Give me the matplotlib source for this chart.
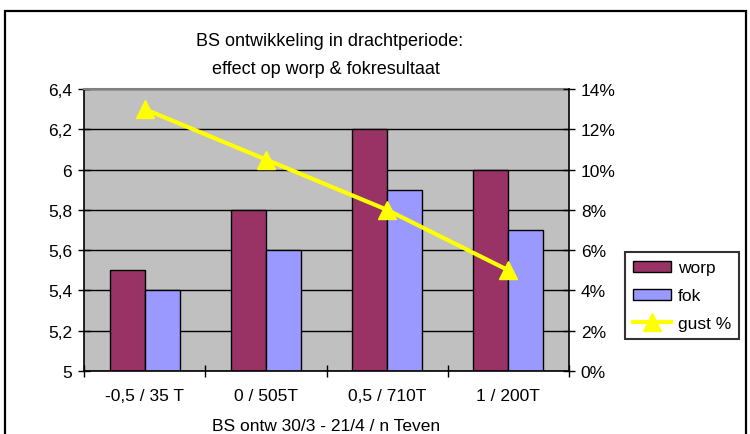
import matplotlib
matplotlib.use("Agg")
import matplotlib.pyplot as plt
from matplotlib.patches import Rectangle
from matplotlib.ticker import FuncFormatter, FixedLocator
import numpy as np

plt.rcParams['font.family'] = ['Liberation Sans', 'DejaVu Sans']

categories = ["-0,5 / 35 T", "0 / 505T", "0,5 / 710T", "1 / 200T"]
worp = [5.5, 5.8, 6.2, 6.0]
fok = [5.4, 5.6, 5.9, 5.7]
gust_pct = [13.0, 10.5, 8.0, 5.0]

W, H = 750, 435
fig = plt.figure(figsize=(7.5, 4.35), dpi=100)
fig.patch.set_facecolor('white')

# outer chart border
fig.patches.append(Rectangle((5 / W, -0.05), 741 / W, (H - 12) / H + 0.05,
                             transform=fig.transFigure, fill=False,
                             edgecolor='black', linewidth=1.6))

ax = fig.add_axes([84 / W, (H - 372) / H, 485 / W, 282 / H])
ax.set_facecolor('#C0C0C0')
x = np.arange(len(categories))
bw = 0.289
ax.bar(x - bw / 2, worp, width=bw, color='#993366', edgecolor='black', linewidth=1, label='worp', zorder=2)
ax.bar(x + bw / 2, fok, width=bw, color='#9999FF', edgecolor='black', linewidth=1, label='fok', zorder=2)
ax.set_xlim(-0.5, len(categories) - 0.5)
ax.set_ylim(5, 6.4)
ax.set_yticks(np.arange(5, 6.41, 0.2))
ax.yaxis.set_major_formatter(FuncFormatter(lambda v, p: f"{v:.1f}".rstrip('0').rstrip('.').replace('.', ',')))
ax.grid(axis='y', color='black', linewidth=1)
ax.set_axisbelow(True)
ax.set_xticks(x)
ax.set_xticklabels(categories, fontsize=12.5)
ax.xaxis.set_minor_locator(FixedLocator(np.arange(-0.5, len(categories), 1.0)))
ax.tick_params(axis='x', which='major', length=0, pad=12)
ax.tick_params(axis='x', which='minor', length=8, direction='inout', width=1)
ax.tick_params(axis='y', length=9, direction='inout', width=1, labelsize=12.5, pad=4)
ax.set_xlabel("BS ontw 30/3 - 21/4 / n Teven", fontsize=12.5, labelpad=11)
for s in ['left', 'bottom']:
    ax.spines[s].set_color('black')
    ax.spines[s].set_linewidth(1.2)
ax.spines['top'].set_color('#808080')
ax.spines['top'].set_linewidth(1.5)
ax.spines['right'].set_visible(False)

ax2 = ax.twinx()
ax2.plot(x, gust_pct, color='#FFFF00', linewidth=3, marker='^', markersize=13,
         markeredgecolor='#FFFF00', label='gust %', zorder=3)
ax2.set_ylim(0, 14)
ax2.set_yticks(np.arange(0, 14.1, 2))
ax2.yaxis.set_major_formatter(FuncFormatter(lambda v, p: f"{v:.0f}%"))
ax2.tick_params(axis='y', length=9, direction='inout', width=1, labelsize=12.5, pad=4)
ax2.spines['right'].set_color('black')
ax2.spines['right'].set_linewidth(1.2)
for s in ['left', 'top', 'bottom']:
    ax2.spines[s].set_visible(False)

fig.text(330 / W, 1 - 41 / H, "BS ontwikkeling in drachtperiode:", ha='center', va='center', fontsize=13)
fig.text(326 / W, 1 - 69 / H, "effect op worp & fokresultaat", ha='center', va='center', fontsize=13)

h1, l1 = ax.get_legend_handles_labels()
h2, l2 = ax2.get_legend_handles_labels()
leg = fig.legend(h1 + h2, l1 + l2, loc='lower left',
                 bbox_to_anchor=(625 / W, 1 - 340 / H), fontsize=12.5,
                 frameon=True, fancybox=False, edgecolor='black',
                 handlelength=2.2, handleheight=0.6, labelspacing=0.75,
                 borderpad=0.45, handletextpad=0.4, borderaxespad=0)
leg.get_frame().set_linewidth(1.5)

fig.savefig("out.png", dpi=100)
